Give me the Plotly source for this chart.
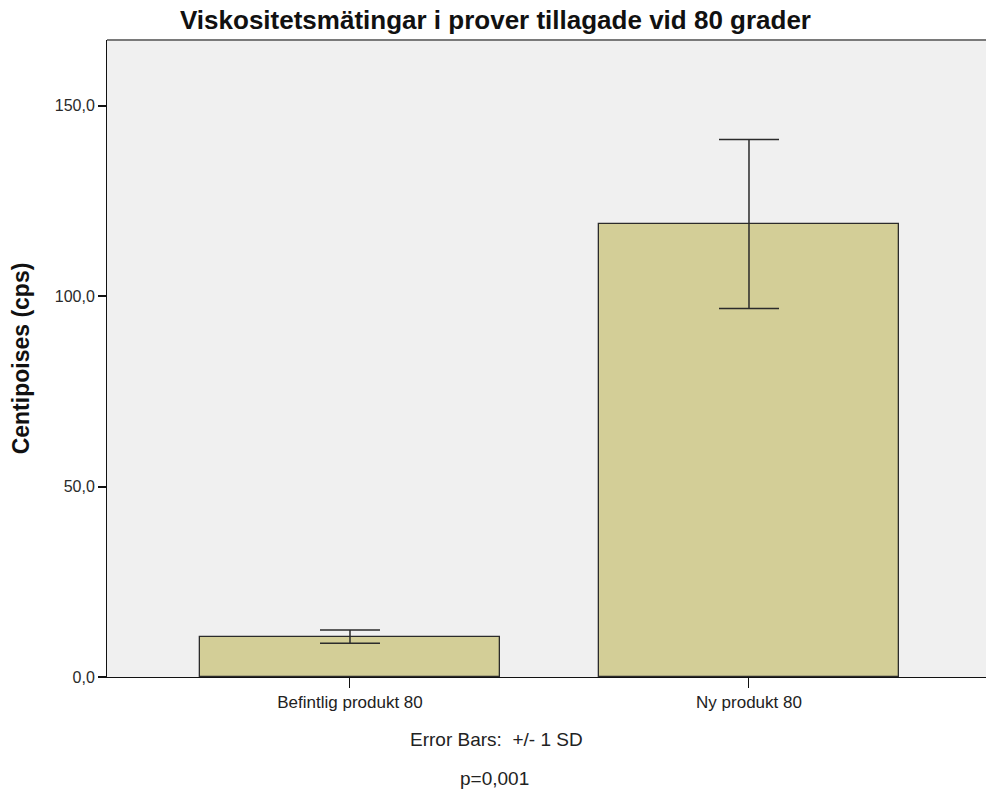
import plotly.graph_objects as go

# Viscosity measurements, samples cooked at 80 degrees
categories = ["Befintlig produkt 80", "Ny produkt 80"]
means = [10.6, 119.0]
sd = [1.75, 22.2]
y_ticks = [0, 50, 100, 150]

positions = list(range(len(categories)))

fig = go.Figure()
fig.add_trace(go.Bar(
    x=positions,
    y=means,
    width=0.752,
    marker=dict(color="#d3ce97", line=dict(color="#2b2b2b", width=1.3)),
    error_y=dict(type="data", array=sd, visible=True, color="#2b2b2b",
                 thickness=1.5, width=30),
    hoverinfo="skip",
))

fig.update_layout(
    width=986, height=793,
    margin=dict(l=107, r=0, t=40, b=116),
    paper_bgcolor="white",
    plot_bgcolor="#f0f0f0",
    separators=",.",
    showlegend=False,
    bargap=0,
    title=dict(
        text="<b>Viskositetsmätingar i prover tillagade vid 80 grader</b>",
        x=495.5 / 986, xanchor="center", y=1 - 20 / 793, yanchor="middle",
        font=dict(family="Liberation Sans, Arial", size=26, color="#111111"),
    ),
    font=dict(family="Liberation Sans, Arial", color="#222222"),
)

fig.update_xaxes(
    range=[-0.609, 1.594],
    tickmode="array", tickvals=positions, ticktext=categories,
    ticks="outside", ticklen=10, tickcolor="#111111", tickwidth=1,
    showline=True, linecolor="#111111", linewidth=1,
    showgrid=False, zeroline=False,
    tickfont=dict(size=17, color="#222222"),
)
fig.update_yaxes(
    range=[0, 167.3],
    tickmode="array", tickvals=y_ticks, tickformat=".1f",
    ticks="outside", ticklen=8, tickcolor="#111111", tickwidth=1.5,
    showline=True, linecolor="#111111", linewidth=1,
    showgrid=False, zeroline=False,
    tickfont=dict(size=16, color="#2a2a2a"),
    title=dict(text="<b>Centipoises (cps)</b>", standoff=18,
               font=dict(size=23, color="#111111")),
)

# top frame line
fig.add_shape(type="line", xref="paper", yref="paper", x0=0, x1=1, y0=1, y1=1,
              line=dict(color="#7a7a7a", width=2))

fig.add_annotation(text="Error Bars:&nbsp; +/- 1 SD", xref="paper", yref="paper",
                   x=(496 - 107) / 879, y=-(739 - 677) / 637, showarrow=False,
                   xanchor="center", yanchor="middle",
                   font=dict(size=19, color="#222222"))
fig.add_annotation(text="p=0,001", xref="paper", yref="paper",
                   x=(494 - 107) / 879, y=-(778 - 677) / 637, showarrow=False,
                   xanchor="center", yanchor="middle",
                   font=dict(size=19, color="#222222"))

fig.write_html("out.html")
